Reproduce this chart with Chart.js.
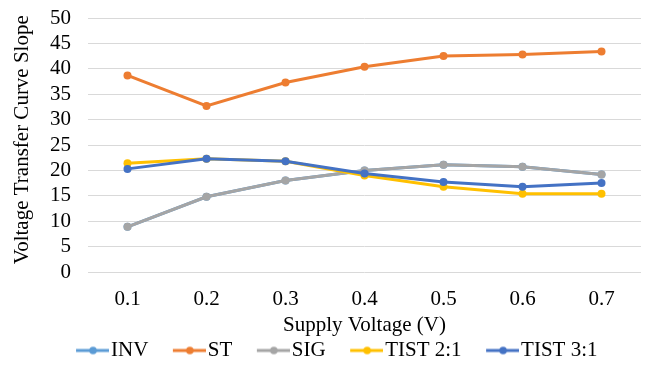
<!DOCTYPE html>
<html>
<head>
<meta charset="utf-8">
<script src="https://cdn.jsdelivr.net/npm/chart.js@4"></script>
<style>
  html, body { margin: 0; padding: 0; background: #fff; }
  #wrap { width: 649px; height: 371px; }
</style>
</head>
<body>
<div id="wrap"><canvas id="vtcChart"></canvas></div>
<script>
const supplyVoltage = ['0.1', '0.2', '0.3', '0.4', '0.5', '0.6', '0.7'];
const invSlope   = [8.9, 14.8, 18.0, 20.0, 21.1, 20.7, 19.2];
const stSlope    = [38.7, 32.7, 37.3, 40.4, 42.5, 42.8, 43.4];
const sigSlope   = [8.9, 14.8, 18.0, 20.0, 21.1, 20.7, 19.2];
const tist21Slope = [21.4, 22.3, 21.8, 19.0, 16.8, 15.4, 15.4];
const tist31Slope = [20.3, 22.3, 21.8, 19.4, 17.7, 16.8, 17.5];
const yTicks = [0, 5, 10, 15, 20, 25, 30, 35, 40, 45, 50];

const seriesNames = ['INV', 'ST', 'SIG', 'TIST 2:1', 'TIST 3:1'];
const seriesColors = ['#5B9BD5', '#ED7D31', '#A5A5A5', '#FFC000', '#4472C4'];
const seriesData = [invSlope, stSlope, sigSlope, tist21Slope, tist31Slope];

const FONT = "'Liberation Serif', 'Times New Roman', serif";
Chart.defaults.font.family = FONT;
Chart.defaults.font.size = 21;
Chart.defaults.color = '#000';

// legend marker: short line with a dot, like the spreadsheet legend
function legendMarker(color) {
    const c = document.createElement('canvas');
    c.width = 64;
    c.height = 10;
    const g = c.getContext('2d');
    g.strokeStyle = color;
    g.lineWidth = 3;
    g.beginPath();
    g.moveTo(31, 5);
    g.lineTo(64, 5);
    g.stroke();
    g.fillStyle = color;
    g.beginPath();
    g.arc(48, 5, 3.8, 0, Math.PI * 2);
    g.fill();
    return c;
}

// nudge the legend row a few px right to line up with the original
const legendShift = {
    id: 'legendShift',
    afterLayout: function (chart) {
        if (chart.legend) {
            chart.legend.left += 5;
            chart.legend.right += 5;
        }
    }
};

const datasets = seriesNames.map(function (name, i) {
    return {
        label: name,
        data: seriesData[i],
        borderColor: seriesColors[i],
        backgroundColor: seriesColors[i],
        pointBackgroundColor: seriesColors[i],
        pointBorderColor: seriesColors[i],
        borderWidth: 3,
        pointRadius: 4,
        pointBorderWidth: 0,
        tension: 0,
        order: seriesNames.length - i
    };
});

const ctx = document.getElementById('vtcChart').getContext('2d');
new Chart(ctx, {
    type: 'line',
    data: { labels: supplyVoltage, datasets: datasets },
    plugins: [legendShift],
    options: {
        responsive: true,
        maintainAspectRatio: false,
        animation: false,
        layout: { padding: { top: 18, right: 8, left: 0, bottom: 0 } },
        plugins: {
            tooltip: { enabled: false },
            legend: {
                position: 'bottom',
                labels: {
                    usePointStyle: true,
                    pointStyleWidth: 47,
                    padding: 2,
                    color: '#000',
                    font: { family: FONT, size: 21 },
                    sort: function (a, b) { return a.datasetIndex - b.datasetIndex; },
                    generateLabels: function (chart) {
                        return chart.data.datasets.map(function (ds, i) {
                            return {
                                text: ds.label,
                                datasetIndex: i,
                                fillStyle: ds.borderColor,
                                strokeStyle: ds.borderColor,
                                lineWidth: 0,
                                hidden: false,
                                fontColor: '#000',
                                pointStyle: legendMarker(ds.borderColor)
                            };
                        });
                    }
                }
            }
        },
        scales: {
            x: {
                offset: true,
                afterFit: function (scale) { scale.height = 66; },
                grid: { display: false, drawTicks: false },
                border: { display: false },
                ticks: { color: '#000', padding: 15, font: { family: FONT, size: 21 } },
                title: {
                    display: true,
                    text: 'Supply Voltage (V)',
                    color: '#000',
                    padding: { top: 0, bottom: 0 },
                    font: { family: FONT, size: 21 }
                }
            },
            y: {
                min: 0,
                max: 50,
                afterBuildTicks: function (scale) {
                    scale.ticks = yTicks.map(function (v) { return { value: v }; });
                },
                afterFit: function (scale) {
                    scale.width = 88;
                    scale.paddingTop = 0;
                    scale.paddingBottom = 0;
                },
                grid: { color: '#D9D9D9', lineWidth: 1, drawTicks: false },
                border: { display: false },
                ticks: { autoSkip: false, color: '#000', padding: 17, font: { family: FONT, size: 21 } },
                title: {
                    display: true,
                    // two leading spaces lift the title a few px, as in the original
                    text: '  Voltage Transfer Curve Slope',
                    color: '#000',
                    padding: { top: 10, bottom: 0 },
                    font: { family: FONT, size: 21 }
                }
            }
        }
    }
});
</script>
</body>
</html>
